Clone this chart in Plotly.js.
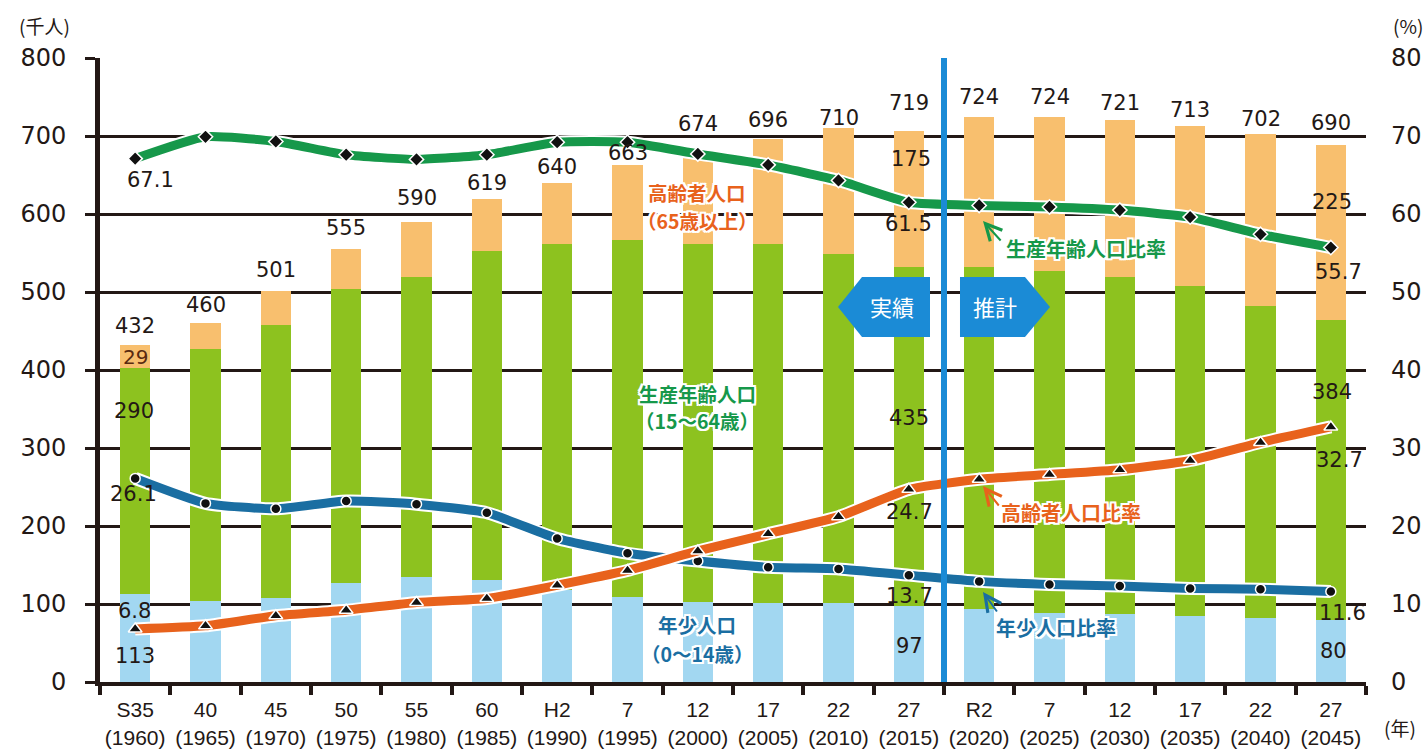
<!DOCTYPE html>
<html><head><meta charset="utf-8">
<script src="https://cdn.plot.ly/plotly-3.0.1.min.js"></script>
<style>html,body{margin:0;padding:0;background:#fff}</style>
</head><body><div id="chart" style="width:1428px;height:750px"></div>
<script>
// ---- data ----
const eras  = ['S35','40','45','50','55','60','H2','7','12','17','22','27','R2','7','12','17','22','27'];
const years = ['1960','1965','1970','1975','1980','1985','1990','1995','2000','2005','2010','2015','2020','2025','2030','2035','2040','2045'];
const youngPop   = [113,104,108,127,135,131,118,109,103,101,101,97,93,89,87,84,82,80];
const workingPop = [290,323,350,377,384,422,443,458,458,460,448,435,439,438,432,424,400,384];
const elderlyPop = [29,33,43,51,71,66,79,96,113,135,161,175,192,197,202,205,220,225];
const totalPop   = [432,460,501,555,590,619,640,663,674,696,710,719,724,724,721,713,702,690];
const workingRatio = [67.1,69.9,69.3,67.6,67.0,67.6,69.2,69.2,67.7,66.3,64.3,61.5,61.1,60.9,60.5,59.6,57.4,55.7];
const elderlyRatio = [6.8,7.2,8.5,9.2,10.2,10.7,12.4,14.3,16.8,19.0,21.2,24.7,26.0,26.6,27.2,28.4,30.7,32.7];
const youngRatio   = [26.1,22.9,22.2,23.2,22.8,21.7,18.4,16.5,15.5,14.7,14.5,13.7,12.9,12.5,12.3,12.0,11.9,11.6];

// ---- styling ----
const INK = '#231815';
const C = {young:'#a2d7f1', working:'#8dc21f', elderly:'#f8bf6e',
           lWork:'#16984a', lOld:'#e8621c', lYoung:'#1a6ea2', box:'#1b8bd6'};
const cats = eras.map((e,i)=> e + '<br>(' + years[i] + ')');

// plot area in pixels
const L=100, R=1366, T=58, B=682;
const P = (px,py)=>({x:(px-L)/(R-L), y:(B-py)/(B-T)});

const traces = [
  {type:'bar', x:cats, y:youngPop, marker:{color:C.young}, hoverinfo:'skip'},
  {type:'bar', x:cats, y:workingPop, marker:{color:C.working}, hoverinfo:'skip'},
  {type:'bar', x:cats, y:elderlyPop, marker:{color:C.elderly}, hoverinfo:'skip'},
];
function ratioLine(vals, color, symbol, size){
  traces.push({type:'scatter', mode:'lines', x:cats, y:vals, yaxis:'y2',
    line:{color:'#ffffff', width:13, shape:'spline', smoothing:0.5}, hoverinfo:'skip'});
  traces.push({type:'scatter', mode:'lines+markers', x:cats, y:vals, yaxis:'y2',
    line:{color:color, width:9, shape:'spline', smoothing:0.5},
    marker:{symbol:symbol, size:size, color:'#111', line:{color:'#fff', width:1.5}}, hoverinfo:'skip'});
}
ratioLine(workingRatio, C.lWork, 'diamond', 11);
ratioLine(youngRatio, C.lYoung, 'circle', 10);
ratioLine(elderlyRatio, C.lOld, 'triangle-up', 12);

const ann = [];
const numFont = (size,color)=>({family:'DejaVu Sans', size:size, color:color||INK});

// totals above bars
const totalLift = [17,16,19,19,22,14,14,10,30,17,8,16,18,18,15,14,13,19];
totalPop.forEach((v,i)=>{
  ann.push({xref:'x', yref:'y', x:i, y:v, yshift:totalLift[i]+2, text:String(v),
    showarrow:false, font:numFont(21), yanchor:'middle'});
});

// value labels inside the chart (pixel placement)
function pxLabel(text, px, py, font){
  const p = P(px,py);
  ann.push({xref:'paper', yref:'paper', x:p.x, y:p.y, text:text, showarrow:false,
    xanchor:'center', yanchor:'middle', font:font});
}
const last = 17, mid = 11;
pxLabel(String(elderlyPop[0]), 135, 357, numFont(20,'#5a2a10'));
pxLabel(String(workingPop[0]), 134, 411, numFont(21));
pxLabel(String(youngPop[0]), 135, 656, numFont(21));
pxLabel(elderlyRatio[0].toFixed(1), 134, 611, numFont(21));
pxLabel(youngRatio[0].toFixed(1), 133, 494, numFont(21));
pxLabel(workingRatio[0].toFixed(1), 150, 180, numFont(21));

pxLabel(String(elderlyPop[mid]), 911, 159, numFont(21));
pxLabel(workingRatio[mid].toFixed(1), 908, 224, numFont(21));
pxLabel(String(workingPop[mid]), 909, 418, numFont(21));
pxLabel(elderlyRatio[mid].toFixed(1), 910, 512, numFont(21));
pxLabel(youngRatio[mid].toFixed(1), 909, 596, numFont(21));
pxLabel(String(youngPop[mid]), 909, 646, numFont(21));

pxLabel(String(elderlyPop[last]), 1332, 202, numFont(21));
pxLabel(workingRatio[last].toFixed(1), 1338, 272, numFont(21));
pxLabel(String(workingPop[last]), 1332, 392, numFont(21));
pxLabel(elderlyRatio[last].toFixed(1), 1339, 460, numFont(21));
pxLabel(youngRatio[last].toFixed(1), 1342, 613, numFont(21));
pxLabel(String(youngPop[last]), 1333, 651, numFont(21));

// category captions with white halo
const halo = '2px 0 0 #fff, -2px 0 0 #fff, 0 2px 0 #fff, 0 -2px 0 #fff, 2px 2px 0 #fff, -2px -2px 0 #fff, 2px -2px 0 #fff, -2px 2px 0 #fff';
const jp = (color,size)=>({family:'Noto Sans CJK JP', size:size||20, color:color, weight:700, shadow:halo});
pxLabel('高齢者人口', 697, 192, jp(C.lOld, 19.5));
pxLabel('（65歳以上）', 697, 221, jp(C.lOld, 19.5));
pxLabel('生産年齢人口', 697, 393, jp(C.lWork, 19.5));
pxLabel('（15～64歳）', 697, 421, jp(C.lWork, 19.5));
pxLabel('年少人口', 697, 624, jp(C.lYoung, 19.5));
pxLabel('（0～14歳）', 697, 653, jp(C.lYoung, 19.5));

// ratio captions with arrows
function arrowLabel(text, color, tx, ty, hx, hy, sx, sy){
  const h = P(hx,hy);
  ann.push({xref:'paper', yref:'paper', x:h.x, y:h.y, ax:sx-hx, ay:sy-hy, axref:'pixel', ayref:'pixel',
    text:'', showarrow:true, arrowhead:5, arrowsize:1.6, arrowwidth:2, arrowcolor:color});
  const p = P(tx,ty);
  ann.push({xref:'paper', yref:'paper', x:p.x, y:p.y, text:text, showarrow:false,
    xanchor:'left', yanchor:'middle', font:jp(color,20)});
}
arrowLabel('生産年齢人口比率', C.lWork, 1004, 248, 983, 221, 1002, 242);
arrowLabel('高齢者人口比率', C.lOld, 999, 512, 983, 486, 1000, 507);
arrowLabel('年少人口比率', C.lYoung, 994, 627, 983, 592, 998, 613);

// actual / projection tags
const boxFont = {family:'Noto Sans CJK JP', size:22, color:'#fff'};
pxLabel('実績', 892, 306, boxFont);
pxLabel('推計', 995, 306, boxFont);

// axis unit captions
const unitFont = {family:'Noto Sans CJK JP', size:19, color:INK};
ann.push({xref:'paper', yref:'paper', x:P(44,0).x, y:P(0,26).y, text:'(千人)', showarrow:false, font:unitFont, xanchor:'center', yanchor:'middle'});
ann.push({xref:'paper', yref:'paper', x:P(1408,0).x, y:P(0,26).y, text:'(%)', showarrow:false, font:unitFont, xanchor:'center', yanchor:'middle'});
ann.push({xref:'paper', yref:'paper', x:P(1400,0).x, y:P(0,727).y, text:'(年)', showarrow:false, font:unitFont, xanchor:'center', yanchor:'middle'});

function polyPath(pts){
  return 'M' + pts.map(q=>{const p=P(q[0],q[1]); return p.x.toFixed(5)+','+p.y.toFixed(5);}).join(' L') + ' Z';
}
const shapes = [
  {type:'line', xref:'x', yref:'paper', x0:11.5, x1:11.5, y0:0, y1:1, line:{color:C.box, width:6}, layer:'above'},
  {type:'path', xref:'paper', yref:'paper', path:polyPath([[838,307],[862,277],[930,277],[930,337],[862,337]]),
    fillcolor:C.box, line:{width:0}, layer:'above'},
  {type:'path', xref:'paper', yref:'paper', path:polyPath([[960,277],[1025,277],[1050,307],[1025,337],[960,337]]),
    fillcolor:C.box, line:{width:0}, layer:'above'},
];

const layout = {
  width:1428, height:750,
  margin:{l:L, r:1428-R, t:T, b:750-B, pad:0},
  paper_bgcolor:'#fff', plot_bgcolor:'#fff',
  barmode:'stack', bargap:0.57,
  showlegend:false,
  font:{family:'DejaVu Sans', color:INK},
  xaxis:{type:'category', range:[-0.5,17.5], tickson:'boundaries', ticks:'outside', ticklen:9, tickwidth:4,
    tickcolor:INK, showline:true, linewidth:4, linecolor:INK, showgrid:false, zeroline:false,
    tickangle:0, tickfont:{family:'Liberation Sans', size:21, color:INK}, ticklabelstandoff:6, fixedrange:true},
  yaxis:{range:[0,800], dtick:100, tick0:0, showgrid:true, gridcolor:INK, gridwidth:3, showline:true,
    linewidth:5, linecolor:INK, ticks:'outside', ticklen:10, tickwidth:3, tickcolor:INK,
    tickfont:{size:24, color:INK}, ticklabelstandoff:14, zeroline:false, fixedrange:true},
  yaxis2:{overlaying:'y', side:'right', range:[0,80], dtick:10, tick0:0, showgrid:false, showline:false,
    ticks:'', tickfont:{size:24, color:INK}, ticklabelstandoff:24, zeroline:false, fixedrange:true},
  annotations:ann, shapes:shapes
};
Plotly.newPlot('chart', traces, layout, {displayModeBar:false, staticPlot:true});
</script></body></html>
